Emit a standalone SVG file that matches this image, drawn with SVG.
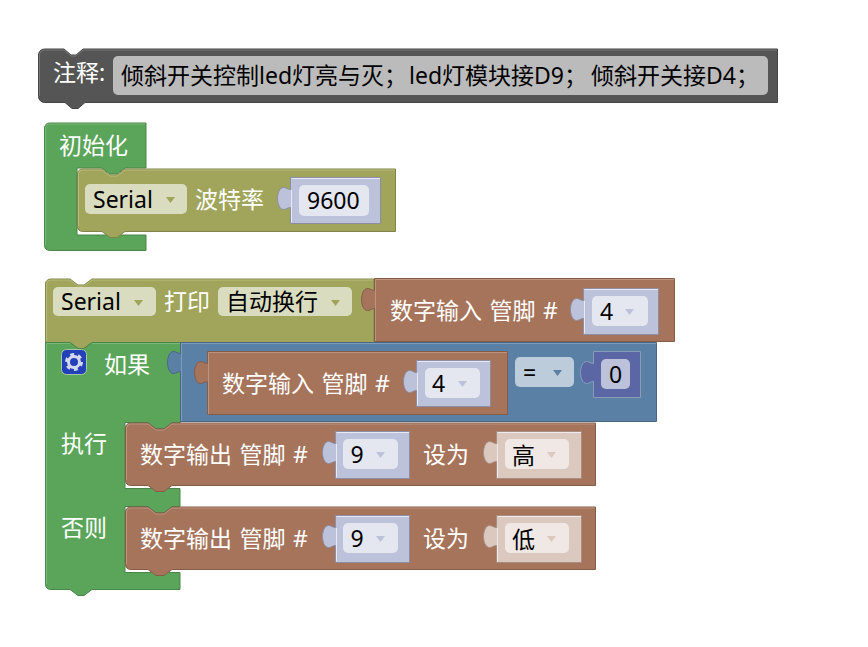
<svg xmlns="http://www.w3.org/2000/svg" width="868" height="647" viewBox="0 0 868 647">
<defs>
<style>
text{font-family:"Noto Sans","Noto Sans CJK SC",sans-serif;font-size:23px}
.w{fill:#fff}
.k{fill:#000}
.sp{word-spacing:1.5px}
.gr{fill:#5ba55b;stroke:#498449}
.ol{fill:#a0a55b;stroke:#808449}
.br{fill:#a5745b;stroke:#845d49}
.bl{fill:#5b80a5;stroke:#496684}
.cm{fill:#555;stroke:#444}
.vb{fill:#bcc2da;stroke:#8d8ea3}
.vh{fill:#dbc8be;stroke:#a88d80}
.vn{fill:#5b67a5;stroke:#8a9bb8}
.hl{fill:none;stroke-width:1;opacity:.65}
.vl{fill:none;stroke:#f2f3fa;stroke-width:1;opacity:.8}
.f{stroke:none}
.arrow{stroke:none}
</style>
</defs>
<g id="comment">
<path class="cm" d="M38.500,55 a6,6 0 0 1 6,-6 H64 l7,6 h5 l7,-6 H777.500 V102.500 H85 l-7,6 h-6 l-7,-6 H44.500 a6,6 0 0 1 -6,-6 Z"/>
<path class="hl" stroke="#888" d="M39.500,96 V55 a5,5 0 0 1 5,-5 H64 l7,6 h5 l7,-6 H777"/>
<text class="w" x="53" y="81">注释:</text>
<rect x="113" y="56" width="655" height="39" rx="5" fill="#bbb"/>
<text class="k" y="84"><tspan x="121">倾斜开关控制led灯亮与灭；</tspan><tspan x="409">led灯模块接D9；</tspan><tspan x="591">倾斜开关接D4；</tspan></text>
</g>
<g id="setup">
<path class="gr" d="M44.500,128 a5,5 0 0 1 5,-5 H146 V168 H125 l-8,6 h-7 l-8,-6 H77 V235 H146 V250.500 H49.500 a5,5 0 0 1 -5,-5 Z"/>
<path class="hl" stroke="#8ac48a" d="M45.500,245 V128 a4,4 0 0 1 4,-4 H145"/>
<text class="w" x="59" y="154">初始化</text>
</g>
<g id="serial-baud">
<path class="ol" d="M77.500,174 a5,5 0 0 1 5,-5 H102 l8,6 h7 l8,-6 H395.500 V231.500 H125 l-8,6 h-7 l-8,-6 H82.500 a5,5 0 0 1 -5,-5 Z"/>
<path class="hl" stroke="#c4c78c" d="M78.500,226 V174 a4,4 0 0 1 4,-4 H102 l8,6 h7 l8,-6 H395"/>
<rect class="f" x="85" y="184" width="102" height="30" rx="5" fill="#d9dcbf"/>
<path class="arrow" fill="#a0a55b" d="M166,197 h9 l-4.500,6 Z"/>
<text class="k" x="93" y="208">Serial</text>
<text class="w" x="195" y="208">波特率</text>
</g>
<g id="value-9600">
<path class="vb" d="M290.500,177.500 H380.500 V223.500 H290.500 V207.500 c-3,0 -4,2 -7,2 c-4,0 -6,-6 -6,-11 c0,-5 2,-11 6,-11 c3,0 4,2 7,2 Z"/>
<path class="vl" d="M291.500,222.500 V190 M291.500,178.500 H380"/>
<rect class="f" x="299" y="185" width="70" height="31" rx="5" fill="#e4e6f0"/>
<text class="k" x="307" y="209">9600</text>
</g>
<g id="serial-print">
<path class="ol" d="M45.500,284 a5,5 0 0 1 5,-5 H70 l8,6 h6 l8,-6 H374 V342.500 H92 l-8,6 h-6 l-8,-6 H45.500 Z"/>
<path class="hl" stroke="#c4c78c" d="M46.500,341 V284 a4,4 0 0 1 4,-4 H70 l8,6 h6 l8,-6 H373"/>
<rect class="f" x="53" y="287" width="103" height="29" rx="5" fill="#d9dcbf"/>
<path class="arrow" fill="#a0a55b" d="M134,300 h9 l-4.500,6 Z"/>
<text class="k" x="61" y="310">Serial</text>
<text class="w" x="164" y="310">打印</text>
<rect class="f" x="218" y="287" width="134" height="29" rx="5" fill="#d9dcbf"/>
<path class="arrow" fill="#a0a55b" d="M331,300 h9 l-4.500,6 Z"/>
<text class="k" x="226" y="310">自动换行</text>
</g>
<g id="read-pin-a">
<path class="br" d="M374.500,278.500 H674.500 V341.500 H374.500 V308.500 c-3,0 -4,2 -7,2 c-4,0 -6,-6 -6,-11 c0,-5 2,-11 6,-11 c3,0 4,2 7,2 Z"/>
<path class="hl" stroke="#c9a592" d="M375.500,341 V279.500 H674"/>
<text class="w sp" x="390" y="319">数字输入 管脚 #</text>
</g>
<g id="pin-a">
<path class="vb" d="M583.500,288.500 H658.500 V334.500 H583.500 V318.500 c-3,0 -4,2 -7,2 c-4,0 -6,-6 -6,-11 c0,-5 2,-11 6,-11 c3,0 4,2 7,2 Z"/>
<path class="vl" d="M584.500,333.500 V301 M584.500,289.500 H658"/>
<rect class="f" x="592" y="296" width="56" height="30" rx="5" fill="#e4e6f0"/>
<path class="arrow" fill="#bcc2da" d="M625,309 h9 l-4.500,6 Z"/>
<text class="k" x="600" y="320">4</text>
</g>
<g id="if-else">
<path class="gr" d="M45.500,342.500 H70 l8,6 h6 l8,-6 H180.500 V422.500 H172 l-8,6 h-8 l-8,-6 H125 V488.500 H180 V506.500 H172 l-8,6 h-8 l-8,-6 H125 V572.500 H180 V589.500 H92 l-8,6 h-6 l-8,-6 H50.500 a5,5 0 0 1 -5,-5 Z"/>
<path class="hl" stroke="#8ac48a" d="M46.500,584 V343.500 H70 M92,343.500 H180"/>
<g id="gear">
<rect x="61.500" y="349.500" width="25" height="25" rx="5" fill="#2340b8" stroke="#a8c8a8"/>
<circle cx="74" cy="362" r="5.500" fill="none" stroke="#d4d8ee" stroke-width="3"/>
<circle cx="74" cy="362" r="7.500" fill="none" stroke="#d4d8ee" stroke-width="3" stroke-dasharray="3.900 3.950"/>
</g>
<text class="w" x="104" y="373">如果</text>
<text class="w" x="61" y="452">执行</text>
<text class="w" x="61" y="536">否则</text>
</g>
<g id="compare">
<path class="bl" d="M180.500,342.500 H656.500 V421.500 H180.500 V371.500 c-3,0 -4,2 -7,2 c-4,0 -6,-6 -6,-11 c0,-5 2,-11 6,-11 c3,0 4,2 7,2 Z"/>
<path class="hl" stroke="#8faac6" d="M181.500,421 V343.500 H656"/>
<rect class="f" x="515" y="357" width="59" height="30" rx="5" fill="#bdccdb"/>
<path class="arrow" fill="#5b80a5" d="M553,370 h9 l-4.500,6 Z"/>
<text class="k" x="523" y="381">=</text>
</g>
<g id="read-pin-b">
<path class="br" d="M207.500,351.500 H507.500 V414.500 H207.500 V381.500 c-3,0 -4,2 -7,2 c-4,0 -6,-6 -6,-11 c0,-5 2,-11 6,-11 c3,0 4,2 7,2 Z"/>
<path class="hl" stroke="#c9a592" d="M208.500,414 V352.500 H507"/>
<text class="w sp" x="222" y="392">数字输入 管脚 #</text>
</g>
<g id="pin-b">
<path class="vb" d="M416.500,360.500 H490.500 V406.500 H416.500 V390.500 c-3,0 -4,2 -7,2 c-4,0 -6,-6 -6,-11 c0,-5 2,-11 6,-11 c3,0 4,2 7,2 Z"/>
<path class="vl" d="M417.500,405.500 V373 M417.500,361.500 H490"/>
<rect class="f" x="425" y="368" width="55" height="30" rx="5" fill="#e4e6f0"/>
<path class="arrow" fill="#bcc2da" d="M458,381 h9 l-4.500,6 Z"/>
<text class="k" x="432" y="392">4</text>
</g>
<g id="value-0">
<path class="vn" d="M593.500,351.500 H640.500 V397.500 H593.500 V381.500 c-3,0 -4,2 -7,2 c-4,0 -6,-6 -6,-11 c0,-5 2,-11 6,-11 c3,0 4,2 7,2 Z"/>
<rect class="f" x="601" y="359" width="29" height="30" rx="5" fill="#bdc2db"/>
<text class="k" x="609" y="383">0</text>
</g>
<g id="write-pin-high">
<path class="br" d="M125.500,428 a5,5 0 0 1 5,-5 H148 l8,6 h8 l8,-6 H595.500 V485.500 H172 l-8,6 h-8 l-8,-6 H130.500 a5,5 0 0 1 -5,-5 Z"/>
<path class="hl" stroke="#c9a592" d="M126.500,480 V428 a4,4 0 0 1 4,-4 H148 l8,6 h8 l8,-6 H595"/>
<text class="w sp" x="140" y="463">数字输出 管脚 #</text>
<text class="w" x="423" y="463">设为</text>
<path class="vb" d="M335.500,431.500 H409.500 V478.500 H335.500 V461.500 c-3,0 -4,2 -7,2 c-4,0 -6,-6 -6,-11 c0,-5 2,-11 6,-11 c3,0 4,2 7,2 Z"/>
<path class="vl" d="M336.500,477.500 V444 M336.500,432.500 H409"/>
<rect class="f" x="343" y="439" width="55" height="30" rx="5" fill="#e4e6f0"/>
<path class="arrow" fill="#bcc2da" d="M376,452 h9 l-4.500,6 Z"/>
<text class="k" x="350.500" y="463">9</text>
<path class="vh" d="M496.500,431.500 H581.500 V478.500 H496.500 V461.500 c-3,0 -4,2 -7,2 c-4,0 -6,-6 -6,-11 c0,-5 2,-11 6,-11 c3,0 4,2 7,2 Z"/>
<path class="vl" d="M497.500,477.500 V444 M497.500,432.500 H581"/>
<rect class="f" x="505" y="439" width="64" height="30" rx="5" fill="#f0e8e5"/>
<path class="arrow" fill="#dbc8be" d="M547,452 h9 l-4.500,6 Z"/>
<text class="k" x="512" y="464">高</text>
</g>
<g id="write-pin-low">
<path class="br" d="M125.500,512 a5,5 0 0 1 5,-5 H148 l8,6 h8 l8,-6 H595.500 V569.500 H172 l-8,6 h-8 l-8,-6 H130.500 a5,5 0 0 1 -5,-5 Z"/>
<path class="hl" stroke="#c9a592" d="M126.500,564 V512 a4,4 0 0 1 4,-4 H148 l8,6 h8 l8,-6 H595"/>
<text class="w sp" x="140" y="547">数字输出 管脚 #</text>
<text class="w" x="423" y="547">设为</text>
<path class="vb" d="M335.500,515.500 H409.500 V562.500 H335.500 V545.500 c-3,0 -4,2 -7,2 c-4,0 -6,-6 -6,-11 c0,-5 2,-11 6,-11 c3,0 4,2 7,2 Z"/>
<path class="vl" d="M336.500,561.500 V528 M336.500,516.500 H409"/>
<rect class="f" x="343" y="523" width="55" height="30" rx="5" fill="#e4e6f0"/>
<path class="arrow" fill="#bcc2da" d="M376,536 h9 l-4.500,6 Z"/>
<text class="k" x="350.500" y="547">9</text>
<path class="vh" d="M496.500,515.500 H581.500 V562.500 H496.500 V545.500 c-3,0 -4,2 -7,2 c-4,0 -6,-6 -6,-11 c0,-5 2,-11 6,-11 c3,0 4,2 7,2 Z"/>
<path class="vl" d="M497.500,561.500 V528 M497.500,516.500 H581"/>
<rect class="f" x="505" y="523" width="64" height="30" rx="5" fill="#f0e8e5"/>
<path class="arrow" fill="#dbc8be" d="M547,536 h9 l-4.500,6 Z"/>
<text class="k" x="512" y="548">低</text>
</g>
</svg>
